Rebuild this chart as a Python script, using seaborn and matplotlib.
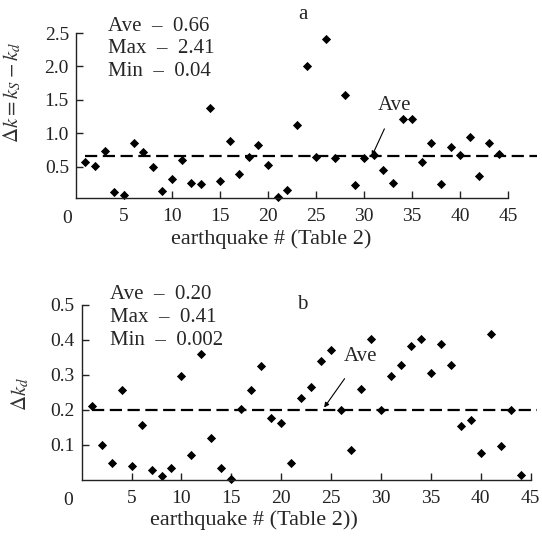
import pandas as pd
import matplotlib.pyplot as plt
import seaborn as sns

# ---------------- data ----------------
quake_a = list(range(1, 45))
dk_a = [0.58, 0.51, 0.74, 0.13, 0.08, 0.85, 0.72, 0.50, 0.14, 0.32,
        0.61, 0.26, 0.25, 1.38, 0.29, 0.89, 0.40, 0.65, 0.82, 0.53,
        0.05, 0.16, 1.13, 2.01, 0.65, 2.41, 0.64, 1.57, 0.23, 0.64,
        0.67, 0.45, 0.26, 1.22, 1.22, 0.58, 0.85, 0.25, 0.80, 0.67,
        0.94, 0.37, 0.85, 0.69]
ave_a = 0.66

quake_b = list(range(1, 45))
dk_b = [0.211, 0.099, 0.048, 0.257, 0.039, 0.157, 0.029, 0.011, 0.033, 0.297,
        0.071, 0.359, 0.119, 0.033, 0.004, 0.202, 0.257, 0.326, 0.176, 0.162,
        0.049, 0.235, 0.265, 0.341, 0.371, 0.200, 0.086, 0.259, 0.403, 0.201,
        0.297, 0.329, 0.382, 0.403, 0.307, 0.389, 0.329, 0.155, 0.172, 0.077,
        0.417, 0.097, 0.200, 0.014]
ave_b = 0.20

stats_a = ["Ave  \u2013  0.66", "Max  \u2013  2.41", "Min  \u2013  0.04"]
stats_b = ["Ave  \u2013  0.20", "Max  \u2013  0.41", "Min  \u2013  0.002"]
xticks = [5, 10, 15, 20, 25, 30, 35, 40, 45]

# ---------------- style ----------------
sns.set_style("ticks")
plt.rcParams["font.family"] = ["Liberation Serif", "DejaVu Serif"]
plt.rcParams["mathtext.fontset"] = "stix"

fig = plt.figure(figsize=(5.42, 5.36), dpi=100)
ax1 = fig.add_axes([0.140, 0.6306, 0.851, 0.3078])
ax2 = fig.add_axes([0.1507, 0.1045, 0.8395, 0.3265])

df_a = pd.DataFrame({"quake": quake_a, "dk": dk_a})
df_b = pd.DataFrame({"quake": quake_b, "dk": dk_b})


def style_axis(ax, ylim, yticks, xmax, zero_dx):
    ax.set_xlim(0, xmax)
    ax.set_ylim(*ylim)
    ax.set_xticks(xticks)
    ax.set_yticks(yticks)
    ax.spines["top"].set_visible(False)
    ax.spines["right"].set_visible(False)
    ax.spines["bottom"].set_bounds(0, 45)
    for s in ["left", "bottom"]:
        ax.spines[s].set_linewidth(1.0)
        ax.spines[s].set_color("#222222")
    ax.tick_params(direction="in", length=5, width=1.0, colors="#222222",
                   labelsize=14, labelcolor="#222222")
    ax.tick_params(axis="x", pad=7)
    ax.tick_params(axis="y", pad=5)
    # origin label sits a bit left of the corner
    ax.annotate("0", xy=(0, 0), xycoords="axes fraction", xytext=(zero_dx, -9),
                textcoords="offset points", ha="center", va="top",
                fontsize=14, color="#222222")


# ---------------- panel a ----------------
sns.scatterplot(data=df_a, x="quake", y="dk", marker="D", color="black",
                s=22, linewidth=0, ax=ax1, clip_on=False)
ax1.hlines(ave_a, 1, 48, colors="black", linestyles=(0, (5.5, 2.5)),
           linewidth=1.6)
style_axis(ax1, (0.035, 2.5), [0.5, 1.0, 1.5, 2.0, 2.5], 48, -6.5)
ax1.set_yticklabels(["0.5", "1.0", "1.5", "2.0", "2.5"])
ax1.set_xlabel("earthquake # (Table 2)", fontsize=16)
ax1.xaxis.set_label_coords(0.423, -0.19)
ax1.set_ylabel(r"$\Delta k = k_S - k_d$", fontsize=15, color="#333333")
ax1.yaxis.set_label_coords(-0.115, 0.64)
for i, t in enumerate(stats_a):
    ax1.text(3.3, 2.60 - i * 0.335, t, fontsize=15, va="center",
             ha="left", clip_on=False)
ax1.text(23.6, 2.77, "a", fontsize=15, va="center", ha="center",
         clip_on=False)
ax1.annotate("Ave", xy=(30.8, ave_a), xytext=(33.2, 1.41),
             fontsize=15, ha="center", va="center",
             arrowprops=dict(arrowstyle="-|>", color="black", lw=0.8,
                             shrinkA=8, shrinkB=0, mutation_scale=7))

# ---------------- panel b ----------------
sns.scatterplot(data=df_b, x="quake", y="dk", marker="D", color="black",
                s=22, linewidth=0, ax=ax2, clip_on=False)
ax2.hlines(ave_b, 1, 45.6, colors="black", linestyles=(0, (5.5, 2.5)),
           linewidth=1.6)
style_axis(ax2, (0.0, 0.5), [0.1, 0.2, 0.3, 0.4, 0.5], 45.6, -10)
ax2.set_xlabel("earthquake # (Table 2))", fontsize=16)
ax2.xaxis.set_label_coords(0.379, -0.175)
ax2.set_ylabel(r"$\Delta k_d$", fontsize=15, color="#333333")
ax2.yaxis.set_label_coords(-0.11, 0.49)
for i, t in enumerate(stats_b):
    ax2.text(2.8, 0.529 - i * 0.0655, t, fontsize=15, va="center",
             ha="left", clip_on=False)
ax2.text(22.1, 0.50, "b", fontsize=15, va="center", ha="center",
         clip_on=False)
ax2.annotate("Ave", xy=(24.3, 0.207), xytext=(27.9, 0.352),
             fontsize=15, ha="center", va="center",
             arrowprops=dict(arrowstyle="-|>", color="black", lw=0.8,
                             shrinkA=8, shrinkB=0, mutation_scale=7))

fig.savefig("out.png", dpi=100)
